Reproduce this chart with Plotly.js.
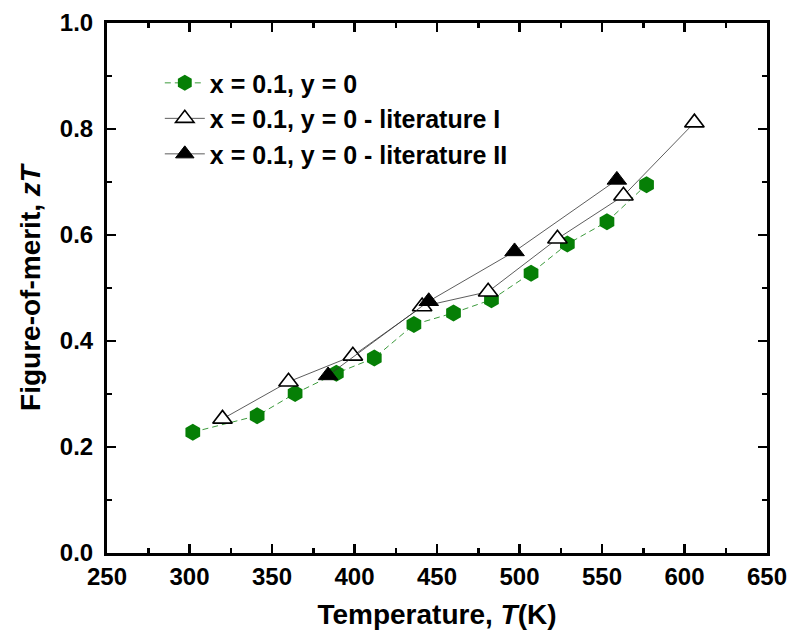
<!DOCTYPE html>
<html>
<head>
<meta charset="utf-8">
<script src="https://cdn.plot.ly/plotly-3.0.1.min.js"></script>
<style>html,body{margin:0;padding:0;background:#fff;}#chart{width:790px;height:644px;}</style>
</head>
<body>
<div id="chart"></div>
<script>
// Series names
const seriesNames = ["x = 0.1, y = 0", "x = 0.1, y = 0 - literature I", "x = 0.1, y = 0 - literature II"];

// Series: this work
const tempA = [302, 341, 364, 389, 412, 436, 460, 483, 507, 529, 553, 577];
const ztA   = [0.228, 0.259, 0.301, 0.339, 0.368, 0.431, 0.453, 0.478, 0.528, 0.583, 0.625, 0.695];

// Series: literature I
const tempB = [320, 360, 399, 441, 481, 523, 563, 606];
const ztB   = [0.253, 0.323, 0.372, 0.465, 0.493, 0.593, 0.674, 0.812];

// Series: literature II
const tempC = [384, 445, 497, 559];
const ztC   = [0.335, 0.475, 0.569, 0.704];

// Tick labels
const xTicks = [250, 300, 350, 400, 450, 500, 550, 600, 650];
const yTicks = [0.0, 0.2, 0.4, 0.6, 0.8, 1.0];

const FONT = "Liberation Sans, Arial, sans-serif";

const traces = [
  {
    x: tempA, y: ztA, name: seriesNames[0], type: "scatter", mode: "lines+markers",
    line: {color: "#3c9a3c", width: 1, dash: "6px,4px"},
    marker: {symbol: "hexagon", size: 17, color: "#067f06", line: {width: 0}}
  },
  {
    x: tempB, y: ztB, name: seriesNames[1], type: "scatter", mode: "lines+markers",
    line: {color: "#333333", width: 0.8},
    marker: {symbol: "triangle-up", size: 17, color: "#ffffff", line: {color: "#000000", width: 1.6}}
  },
  {
    x: tempC, y: ztC, name: seriesNames[2], type: "scatter", mode: "lines+markers",
    line: {color: "#333333", width: 0.8},
    marker: {symbol: "triangle-up", size: 17, color: "#000000", line: {color: "#000000", width: 1}}
  }
];

const axisCommon = {
  showline: true, linecolor: "#000", linewidth: 3, mirror: "allticks",
  ticks: "inside", ticklen: 9, tickwidth: 2.5, tickcolor: "#000",
  showgrid: false, zeroline: false,
  tickfont: {family: FONT, size: 24, color: "#000", weight: "bold"}
};

const layout = {
  width: 790, height: 644,
  paper_bgcolor: "#fff", plot_bgcolor: "#fff",
  margin: {l: 107, r: 23, t: 23, b: 91},
  showlegend: true,
  legend: {
    x: 0.08, y: 0.93, xanchor: "left", yanchor: "top",
    bgcolor: "rgba(0,0,0,0)", borderwidth: 0,
    font: {family: FONT, size: 25, color: "#000", weight: "bold"},
    itemwidth: 40, tracegroupgap: 0
  },
  xaxis: Object.assign({}, axisCommon, {
    range: [250, 650], tickvals: xTicks, ticktext: xTicks.map(String),
    minor: {ticks: "inside", ticklen: 5, tickwidth: 2.5, tickcolor: "#000", dtick: 25, tick0: 250},
    title: {text: "Temperature, <i>T</i>(K)", font: {family: FONT, size: 28, color: "#000", weight: "bold"}, standoff: 16}
  }),
  yaxis: Object.assign({}, axisCommon, {
    range: [0, 1.0], tickvals: yTicks, ticktext: yTicks.map(v => v.toFixed(1)),
    ticklabelstandoff: 6,
    minor: {ticks: "inside", ticklen: 5, tickwidth: 2.5, tickcolor: "#000", dtick: 0.1, tick0: 0},
    title: {text: "Figure-of-merit, <i>zT</i>", font: {family: FONT, size: 28, color: "#000", weight: "bold"}, standoff: 12}
  })
};

Plotly.newPlot("chart", traces, layout, {displayModeBar: false, staticPlot: true});
</script>
</body>
</html>
